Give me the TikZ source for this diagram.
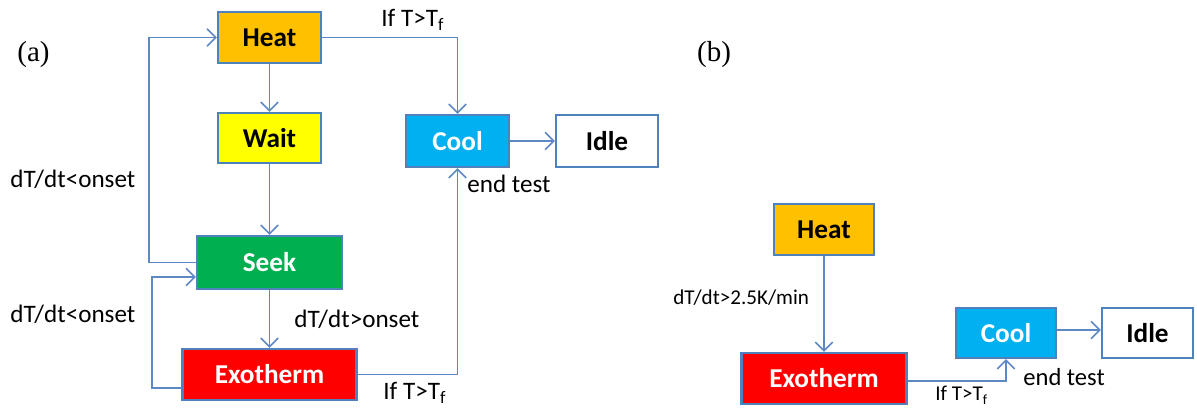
\documentclass[tikz,border=0pt]{standalone}
\usepackage{fontspec}
\setmainfont{Carlito}
\newfontfamily\serifface{Liberation Serif}
\usetikzlibrary{arrows.meta,calc}
\definecolor{edgeblue}{HTML}{4F81BD}
\definecolor{linkblue}{HTML}{5E88C4}
\definecolor{heatc}{HTML}{FFC000}
\definecolor{waitc}{HTML}{FFFF00}
\definecolor{seekc}{HTML}{00B050}
\definecolor{exoc}{HTML}{FF0000}
\definecolor{coolc}{HTML}{00B0F0}
\tikzset{
  statebox/.style={draw=edgeblue, line width=1.2pt, inner sep=0pt,
    font=\fontsize{15.5}{18}\selectfont\bfseries},
  link/.style={draw=linkblue, line width=0.9pt,
    -{Straight Barb[length=5pt,width=10pt,line width=0.9pt]}},
  cond/.style={font=\fontsize{14.3}{16}\selectfont, inner sep=0pt, anchor=base west},
  smallcond/.style={font=\fontsize{12}{14}\selectfont, inner sep=0pt, anchor=base west},
  panel/.style={font=\serifface\fontsize{16.5}{19}\selectfont, inner sep=0pt},
}
\begin{document}
\begin{tikzpicture}[x=0.02cm, y=-0.02cm]
\useasboundingbox (0,0) rectangle (1197,408);

% ---------- panel (a) ----------
\node[panel] (pa) at (33.5,55) {(a)};
\node[statebox, fill=heatc, minimum width=2.06cm, minimum height=1.02cm] (heatA) at (269.5,37.5) {Heat};
\node[statebox, fill=waitc, minimum width=2.06cm, minimum height=1.0cm] (waitA) at (269.5,138) {Wait};
\node[statebox, fill=seekc, text=white, minimum width=2.9cm, minimum height=1.06cm] (seekA) at (269.5,262.5) {Seek};
\node[statebox, fill=exoc, text=white, minimum width=3.48cm, minimum height=1.02cm] (exoA) at (269.5,374.5) {Exotherm};
\node[statebox, fill=coolc, text=white, minimum width=2.06cm, minimum height=1.04cm] (coolA) at (457.5,141) {Cool};
\node[statebox, fill=white, minimum width=2.04cm, minimum height=1.04cm] (idleA) at (607,141) {Idle};

\coordinate (loopOuter) at (149,0);
\coordinate (loopInner) at (152,0);
\coordinate (exoOut) at ($(exoA.west)+(0,13.5)$);
\coordinate (seekIn) at ($(seekA.west)+(0,14.5)$);

\draw[link] (heatA) -- (waitA);
\draw[link] (waitA) -- (seekA);
\draw[link] (seekA) -- (exoA);
\draw[link] (heatA.east) -| (coolA.north);
\draw[link] (seekA.west) -- (seekA.west -| loopOuter) -- (heatA.west -| loopOuter) -- (heatA.west);
\draw[link] (exoOut) -- (exoOut -| loopInner) -- (seekIn -| loopInner) -- (seekIn);
\draw[link] (exoA.east) -| (coolA.south);
\draw[link] (coolA) -- (idleA);

\node[cond] (ifTopA) at (381,27) {If T>T\textsubscript{f}};
\node[cond] (ifBotA) at (383,400) {If T>T\textsubscript{f}};
\node[cond] (endA) at (467,193) {end test};
\node[cond] (onsetUp) at (294,328) {dT/dt>onset};
\node[cond] (onsetA1) at (10,188) {dT/dt<onset};
\node[cond] (onsetA2) at (10,323) {dT/dt<onset};

% ---------- panel (b) ----------
\node[panel] (pb) at (714,55) {(b)};
\node[statebox, fill=heatc, minimum width=2.0cm, minimum height=1.02cm] (heatB) at (824,229.5) {Heat};
\node[statebox, fill=exoc, text=white, minimum width=3.3cm, minimum height=1.02cm] (exoB) at (824,378.5) {Exotherm};
\node[statebox, fill=coolc, text=white, minimum width=2.0cm, minimum height=1.0cm] (coolB) at (1006,333) {Cool};
\node[statebox, fill=white, minimum width=1.82cm, minimum height=1.0cm] (idleB) at (1147.5,333) {Idle};

\coordinate (exoBOut) at ($(exoB.east)+(0,2.5)$);
\draw[link] (heatB) -- (exoB);
\draw[link] (exoBOut) -| (coolB.south);
\draw[link] ($(coolB.east)+(0,-3)$) -- ($(idleB.west)+(0,-3)$);

\node[smallcond] (rateB) at (673,305) {dT/dt>2.5K/min};
\node[smallcond] (ifB) at (935,401) {If T>T\textsubscript{f}};
\node[cond, font=\fontsize{14}{16}\selectfont] (endB) at (1023,386) {end test};
\end{tikzpicture}
\end{document}
